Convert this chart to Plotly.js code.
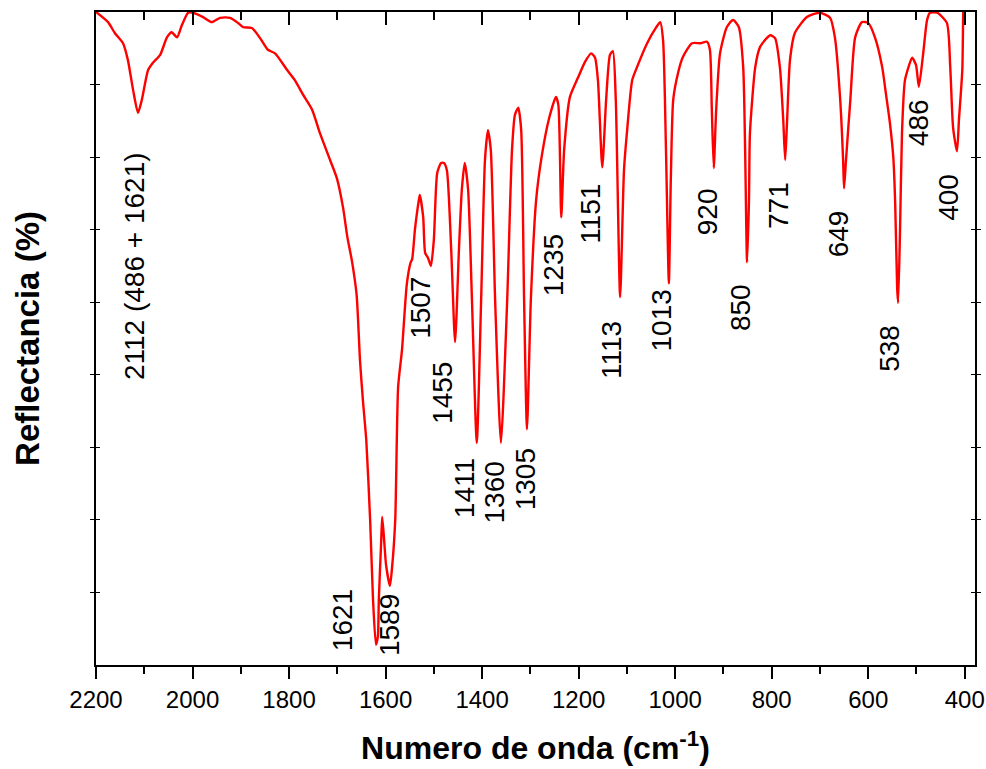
<!DOCTYPE html>
<html>
<head>
<meta charset="utf-8">
<script src="https://cdn.plot.ly/plotly-3.0.1.min.js"></script>
<style>html,body{margin:0;padding:0;background:#fff;}#chart{width:986px;height:769px;}</style>
</head>
<body>
<div id="chart"></div>
<script>
// Wavenumber (cm-1)
var wavenumber = [2200,2175,2161,2144,2134,2123,2113,2105,2092,2082,2067,2053,2043,2032,2022,2009,1999,1978,1960,1943,1922,1906,1895,1877,1860,1844,1829,1804,1788,1771,1752,1736,1715,1701,1688,1679,1670,1660,1653,1647,1640,1632,1626,1620,1616,1614,1609,1607,1603,1599,1591,1587,1580,1574,1566,1556,1548,1545,1539,1531,1529,1522,1518,1512,1506,1500,1493,1485,1479,1473,1464,1456,1448,1442,1436,1429,1421,1411,1402,1394,1388,1382,1373,1361,1348,1338,1332,1325,1319,1313,1307,1299,1288,1276,1261,1247,1242,1236,1230,1218,1201,1187,1174,1166,1160,1151,1143,1135,1129,1123,1114,1106,1100,1089,1079,1058,1040,1031,1025,1019,1013,1009,1004,994,984,965,948,934,928,924,920,915,907,893,880,868,859,855,851,847,845,834,824,803,793,783,776,772,768,762,752,727,700,679,669,658,652,650,646,637,627,613,600,586,571,563,555,548,544,540,538,534,530,524,517,509,501,495,486,478,472,457,437,430,424,416,412,405,403,399,395];
// Reflectance (arbitrary %, axis unlabeled)
var reflectance = [90.0,88.6,87.1,85.7,83.4,79.2,76.1,77.9,82.0,83.0,84.1,86.5,87.2,86.5,88.2,89.9,89.9,89.3,88.6,89.2,89.2,88.5,87.9,87.8,86.4,84.8,84.3,82.0,80.6,78.6,76.5,73.3,69.6,67.1,63.0,58.9,55.8,51.0,42.0,36.5,31.0,20.0,9.0,2.8,3.9,9.0,17.2,20.4,17.2,13.8,10.9,13.1,20.0,38.3,43.4,52.5,55.5,55.9,60.1,64.1,64.8,61.7,56.8,56.1,55.0,58.6,67.8,69.2,69.2,68.2,57.2,44.5,57.2,65.5,69.2,65.5,50.3,30.6,50.3,69.6,73.7,71.0,50.3,30.6,50.3,71.0,75.8,76.8,73.7,50.3,32.5,50.3,64.1,70.3,75.4,78.3,77.2,61.7,71.0,78.3,81.0,83.1,84.3,83.7,80.6,68.6,77.9,84.1,84.6,77.9,50.7,68.2,73.3,80.6,82.4,85.7,87.8,88.6,86.1,71.0,52.6,66.8,77.9,81.6,83.8,85.7,85.7,85.9,84.8,76.5,68.5,76.5,84.3,87.9,88.9,87.9,82.4,71.0,55.5,64.1,73.3,82.4,85.2,86.8,86.4,82.4,75.1,69.6,75.1,83.4,87.1,89.3,89.9,89.2,86.5,77.9,69.6,65.7,69.6,77.9,86.5,88.6,88.5,86.5,82.4,78.6,74.7,70.0,63.5,52.0,49.9,60.0,73.3,80.5,82.3,83.7,82.7,79.7,84.3,88.9,89.9,89.9,88.5,82.4,74.0,70.8,75.1,82.0,90.0,96.0];

// Band labels
var bandLabels = ["2112 (486 + 1621)","1621","1589","1507","1455","1411","1360","1305","1235","1151","1113","1013","920","850","771","649","538","486","400"];
var labelX = [2119,1690,1593,1529,1481,1435,1375,1311,1253,1174,1133,1029,934,866,787,662,555,497,435];
var labelY = [55.0,6.2,5.5,49.2,37.5,24.4,23.8,25.6,55.1,62.2,43.4,47.5,62.4,49.3,63.4,59.4,43.7,74.8,64.5];

var xTitle = "Numero de onda (cm<sup>-1</sup>)";
var yTitle = "Reflectancia (%)";

var FONT = "Liberation Sans, Arial, Helvetica, sans-serif";

var traces = [
  {x: wavenumber, y: reflectance, type: "scatter", mode: "lines",
   line: {color: "#ff0000", width: 2.4, shape: "spline", smoothing: 0.6}, showlegend: false, hoverinfo: "skip"},
  {x: [2200, 378.7], y: [null, null], xaxis: "x2", type: "scatter", mode: "lines", showlegend: false}
];

var annotations = bandLabels.map(function(t, i){
  return {x: labelX[i], y: labelY[i], xref: "x", yref: "y", text: t, showarrow: false,
          textangle: -90, font: {family: FONT, size: 28, color: "#000"},
          xanchor: "center", yanchor: "middle"};
});

var layout = {
  width: 986, height: 769,
  margin: {l: 96, r: 11, t: 12, b: 104},
  paper_bgcolor: "#fff", plot_bgcolor: "#fff",
  showlegend: false,
  font: {family: FONT, color: "#000"},
  xaxis: {
    range: [2200, 378.7], tick0: 400, dtick: 200,
    ticks: "outside", ticklen: 12, tickwidth: 2, tickcolor: "#000",
    minor: {dtick: 100, tick0: 400, ticks: "outside", ticklen: 7, tickwidth: 2, tickcolor: "#000", showgrid: false},
    showline: true, linewidth: 2, linecolor: "#000", mirror: true,
    showgrid: false, zeroline: false,
    tickfont: {family: FONT, size: 24, color: "#000"},
    title: {text: xTitle, font: {family: FONT, size: 32, color: "#000", weight: "bold"}, standoff: 25}
  },
  xaxis2: {
    overlaying: "x", side: "top", anchor: "y",
    range: [2200, 378.7], tick0: 400, dtick: 200,
    ticks: "inside", ticklen: 13, tickwidth: 2, tickcolor: "#000",
    minor: {dtick: 100, tick0: 400, ticks: "inside", ticklen: 8, tickwidth: 2, tickcolor: "#000", showgrid: false},
    showticklabels: false, showline: false, showgrid: false, zeroline: false
  },
  yaxis: {
    range: [0, 90], tick0: 0, dtick: 10,
    ticks: "inside", ticklen: 4, tickwidth: 1, tickcolor: "#000",
    showticklabels: false,
    showline: true, linewidth: 2, linecolor: "#000", mirror: "allticks",
    showgrid: false, zeroline: false,
    title: {text: yTitle, font: {family: FONT, size: 33, color: "#000", weight: "bold"}, standoff: 44}
  },
  annotations: annotations
};

Plotly.newPlot("chart", traces, layout, {displayModeBar: false, staticPlot: true});
</script>
</body>
</html>
